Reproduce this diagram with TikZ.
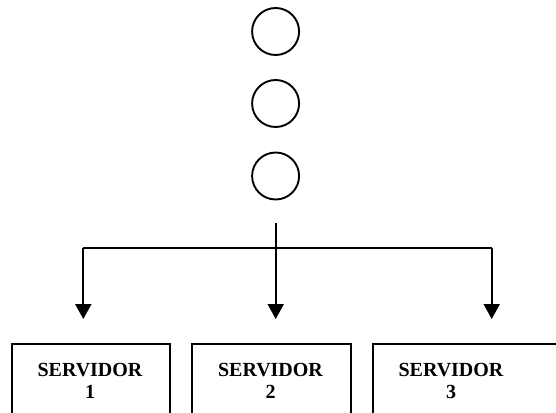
\documentclass[tikz,border=0pt]{standalone}
\usepackage{fontspec}
\setmainfont{Liberation Serif}
\usetikzlibrary{arrows.meta}
\begin{document}
\begin{tikzpicture}[x=1pt,y=-1pt,
  ln/.style={line width=2pt},
  dot/.style={circle,draw,line width=1.9pt,minimum size=47pt,inner sep=0pt},
  srv/.style={draw,line width=1.9pt,minimum height=76pt,inner sep=0pt,anchor=north west},
  lbl/.style={font=\bfseries\fontsize{20}{22}\selectfont,align=center,inner sep=0pt},
  arr/.style={ln,-{Triangle[length=15pt,width=16pt]}}]
\useasboundingbox (0,0) rectangle (556,412);
\clip (0,0) rectangle (556,412);

% three stacked circles
\node[dot] (c1) at (275.6,31.5) {};
\node[dot] (c2) at (275.6,103.5) {};
\node[dot] (c3) at (275.6,176) {};

% server boxes
\node[srv,minimum width=158pt] (b1) at (10.7,343.3) {};
\node[srv,minimum width=159pt] (b2) at (191,343.3) {};
\node[srv,minimum width=230pt] (b3) at (371.7,343.3) {};
\node[lbl] (s1) at (90,381) {SERVIDOR\\1};
\node[lbl] (s2) at (270.5,381) {SERVIDOR\\2};
\node[lbl] (s3) at (451,381) {SERVIDOR\\3};

% distribution connectors
\coordinate (top) at (275.7,223);
\coordinate (jl) at (83.3,247.5);
\coordinate (jr) at (491.7,247.5);
\coordinate (t1) at (83.3,319);
\coordinate (t2) at (275.7,319);
\coordinate (t3) at (491.7,319);
\draw[ln] (jl) -- (jr);
\draw[arr] (top) -- (t2);
\draw[arr] (jl) -- (t1);
\draw[arr] (jr) -- (t3);
\end{tikzpicture}
\end{document}
